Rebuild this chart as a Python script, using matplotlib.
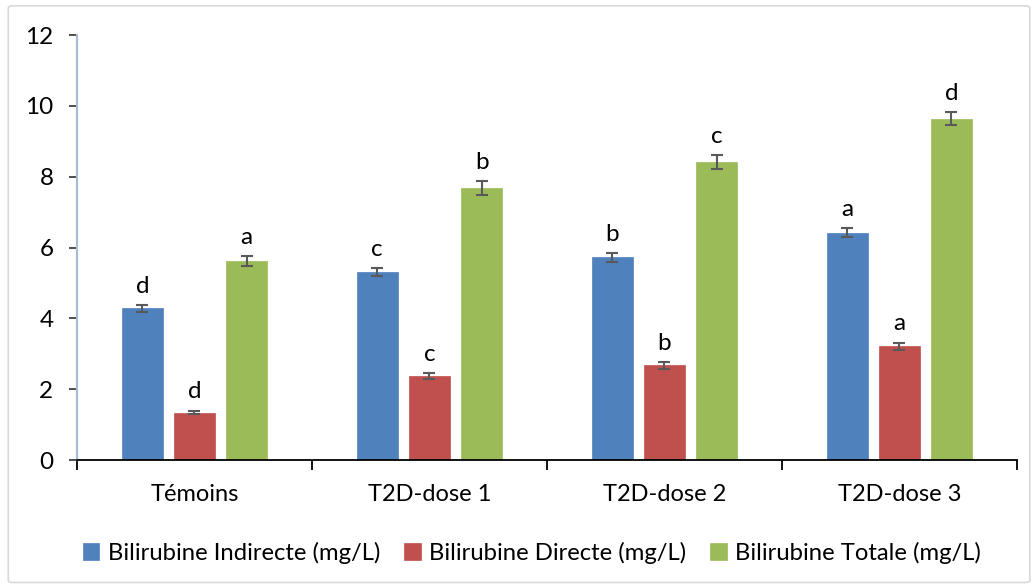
import matplotlib
matplotlib.use("Agg")
import matplotlib.pyplot as plt
from matplotlib.patches import FancyBboxPatch
import numpy as np

plt.rcParams['font.family'] = ['Lato', 'DejaVu Sans']

groups = ["Témoins", "T2D-dose 1", "T2D-dose 2", "T2D-dose 3"]
series_names = ["Bilirubine Indirecte (mg/L)", "Bilirubine Directe (mg/L)", "Bilirubine Totale (mg/L)"]
colors = ["#4f81bd", "#c0504d", "#9bbb59"]

indirecte = [4.28, 5.31, 5.72, 6.42]
directe = [1.34, 2.37, 2.67, 3.21]
totale = [5.62, 7.68, 8.41, 9.64]

indirecte_err = [0.10, 0.11, 0.13, 0.12]
directe_err = [0.05, 0.08, 0.10, 0.10]
totale_err = [0.13, 0.19, 0.20, 0.19]

indirecte_lbl = ["d", "c", "b", "a"]
directe_lbl = ["d", "c", "b", "a"]
totale_lbl = ["a", "b", "c", "d"]

values = [indirecte, directe, totale]
errors = [indirecte_err, directe_err, totale_err]
letters = [indirecte_lbl, directe_lbl, totale_lbl]

fig = plt.figure(figsize=(10.35, 5.86), dpi=100)
fig.patch.set_facecolor("white")

# light frame around the chart area
frame = FancyBboxPatch((0.008, 0.006), 0.987, 0.984, boxstyle="round,pad=0,rounding_size=0.004",
                       transform=fig.transFigure, fill=False, edgecolor="#d9d9d9", linewidth=1.2)
fig.patches.append(frame)

ax = fig.add_axes([0.0744, 0.215, 0.908, 0.725])

x = np.arange(len(groups)) + 0.5
width = 0.175
offset = 0.222

for i, (vals, errs, lbls, col) in enumerate(zip(values, errors, letters, colors)):
    pos = x + (i - 1) * offset
    ax.bar(pos, vals, width=width, color=col, edgecolor=col, linewidth=0.5, label=series_names[i], zorder=2)
    ax.errorbar(pos, vals, yerr=errs, fmt="none", ecolor="#595959", elinewidth=1.5,
                capsize=4.5, capthick=1.5, zorder=3)
    for p, v, e, t in zip(pos, vals, errs, lbls):
        ax.annotate(t, (p, v + e), xytext=(0, 6), textcoords="offset points",
                    ha="center", va="bottom", fontsize=17.5, color="black")

ax.set_xlim(0, len(groups))
ax.set_ylim(0, 12)
ax.set_yticks(np.arange(0, 13, 2))
ax.set_xticks(np.arange(0, len(groups) + 1))
ax.set_xticklabels([])
ax.set_xticks(x, minor=True)
ax.set_xticklabels(groups, minor=True)
ax.tick_params(axis="x", which="minor", length=0, pad=17, labelsize=17)
ax.tick_params(axis="x", which="major", length=7, width=1.3, color="black", direction="out")
ax.tick_params(axis="y", length=6, width=1.3, color="#404040", direction="out", pad=11, labelsize=17.5)

for s in ["top", "right"]:
    ax.spines[s].set_visible(False)
ax.spines["bottom"].set_color("black")
ax.spines["bottom"].set_linewidth(1.3)
ax.spines["left"].set_color("#a7bcd6")
ax.spines["left"].set_linewidth(1.6)

ax.legend(loc="upper center", bbox_to_anchor=(0.484, -0.142), ncol=3, frameon=False,
          fontsize=17.2, handlelength=0.7, handleheight=0.7, handletextpad=0.35, columnspacing=1.0)

fig.savefig("out.png", dpi=100, facecolor="white")
